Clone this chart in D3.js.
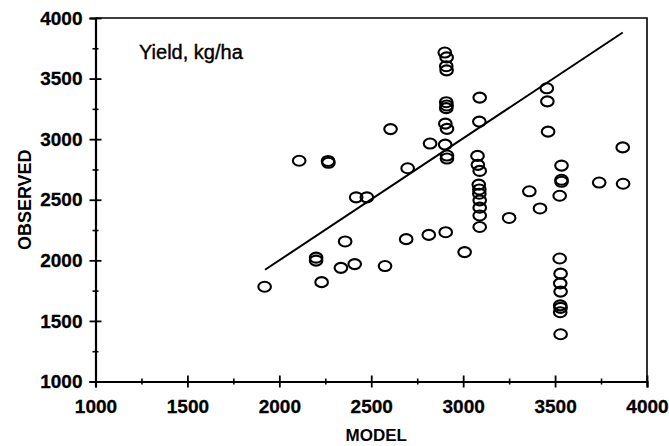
<!DOCTYPE html>
<html>
<head>
<meta charset="utf-8">
<script src="https://cdn.jsdelivr.net/npm/d3@7"></script>
<style>
  html, body { margin: 0; padding: 0; background: #fff; }
  svg { display: block; }
  .tick text { font-family: "Liberation Sans", Arial, sans-serif; font-weight: bold; font-size: 19px; fill: #000; stroke: #000; stroke-width: 0.3px; }
  .axis path, .axis line { stroke: #000; }
</style>
</head>
<body>
<svg id="chart" width="669" height="446"></svg>
<script>
// Simulated vs. measured grain yield (kg/ha)
const modelYield = [
  1920, 2108, 2265, 2267, 2200, 2200, 2230, 2335, 2358, 2410,
  2418, 2476, 2575, 2605, 2690, 2698, 2813, 2820, 2905, 2900,
  2910, 2908, 2910, 2908, 2910, 2908, 2903, 2912, 2902, 2912,
  2912, 3008, 3090, 3088, 3078, 3080, 3090, 3085, 3088, 3088,
  3090, 3090, 3090, 3090, 3250, 3360, 3418, 3455, 3458, 3462,
  3535, 3535, 3535, 3525, 3525, 3530, 3528, 3530, 3528, 3530,
  3528, 3530, 3740, 3868, 3870
];
const observedYield = [
  1782, 2822, 2820, 2805, 2022, 1998, 1820, 1938, 2156, 1969,
  2520, 2520, 1953, 3083, 2175, 2760, 2210, 2964, 2232, 3715,
  3675, 3602, 3568, 3305, 3278, 3256, 3128, 3085, 2955, 2865,
  2840, 2068, 3343, 3145, 2862, 2788, 2738, 2625, 2585, 2550,
  2495, 2435, 2370, 2275, 2350, 2570, 2428, 3420, 3312, 3062,
  2782, 2665, 2648, 2533, 2015, 1890, 1810, 1742, 1628, 1608,
  1572, 1390, 2642, 2932, 2632
];
// 1:1 reference line across the modelled range
const lineModel = [1922, 3868];
const lineObserved = [1922, 3880];

const majorTicks = [1000, 1500, 2000, 2500, 3000, 3500, 4000];
const minorTicks = [1250, 1750, 2250, 2750, 3250, 3750];

const svg = d3.select("#chart");
const x = d3.scaleLinear().domain([1000, 4000]).range([95.5, 647]);
const y = d3.scaleLinear().domain([1000, 4000]).range([381.5, 18]);

// frame (top and right)
svg.append("path")
  .attr("d", `M${x(1000)},${y(4000)}H${x(4000)}V${y(1000)}`)
  .attr("fill", "none").attr("stroke", "#000").attr("stroke-width", 1.6);

// x axis
const gx = svg.append("g").attr("class", "axis")
  .attr("transform", `translate(0,${y(1000)})`)
  .call(d3.axisBottom(x).tickValues(majorTicks).tickSize(6).tickPadding(12).tickFormat(d3.format("d")));
gx.select(".domain").attr("stroke-width", 2.2);
gx.selectAll(".tick line").attr("y1", -6).attr("stroke-width", 1.8);
gx.selectAll(".tick text").attr("dy", "0.71em");

const gxm = svg.append("g").attr("class", "axis")
  .attr("transform", `translate(0,${y(1000)})`)
  .call(d3.axisBottom(x).tickValues(minorTicks).tickSize(3).tickFormat(""));
gxm.select(".domain").remove();
gxm.selectAll(".tick line").attr("y1", -3).attr("stroke-width", 1.6);

// y axis
const gy = svg.append("g").attr("class", "axis")
  .attr("transform", `translate(${x(1000)},0)`)
  .call(d3.axisLeft(y).tickValues(majorTicks).tickSize(6).tickPadding(7).tickFormat(d3.format("d")));
gy.select(".domain").attr("stroke-width", 2.2);
gy.selectAll(".tick line").attr("x1", 6).attr("stroke-width", 1.8);

const gym = svg.append("g").attr("class", "axis")
  .attr("transform", `translate(${x(1000)},0)`)
  .call(d3.axisLeft(y).tickValues(minorTicks).tickSize(3).tickFormat(""));
gym.select(".domain").remove();
gym.selectAll(".tick line").attr("x1", 3).attr("stroke-width", 1.6);

// reference line
svg.append("path")
  .datum(d3.zip(lineModel, lineObserved))
  .attr("d", d3.line().x(d => x(d[0])).y(d => y(d[1])))
  .attr("fill", "none").attr("stroke", "#000").attr("stroke-width", 2);

// points
svg.append("g").selectAll("ellipse")
  .data(d3.zip(modelYield, observedYield))
  .join("ellipse")
  .attr("cx", d => x(d[0])).attr("cy", d => y(d[1]))
  .attr("rx", 6.3).attr("ry", 5)
  .attr("fill", "none").attr("stroke", "#000").attr("stroke-width", 2.1);

// annotation and axis titles
svg.append("text")
  .attr("x", 139).attr("y", 59)
  .attr("font-family", "Liberation Sans, Arial, sans-serif")
  .attr("font-size", 20).attr("fill", "#000")
  .attr("stroke", "#000").attr("stroke-width", 0.4)
  .text("Yield, kg/ha");

svg.append("text")
  .attr("x", (x(1000) + x(4000)) / 2 + 5).attr("y", 441)
  .attr("text-anchor", "middle")
  .attr("font-family", "Liberation Sans, Arial, sans-serif")
  .attr("font-weight", "bold").attr("font-size", 17).attr("fill", "#000")
  .text("MODEL");

svg.append("text")
  .attr("transform", `translate(31,${(y(1000) + y(4000)) / 2}) rotate(-90)`)
  .attr("text-anchor", "middle")
  .attr("font-family", "Liberation Sans, Arial, sans-serif")
  .attr("font-weight", "bold").attr("font-size", 18).attr("fill", "#000")
  .text("OBSERVED");
</script>
</body>
</html>
